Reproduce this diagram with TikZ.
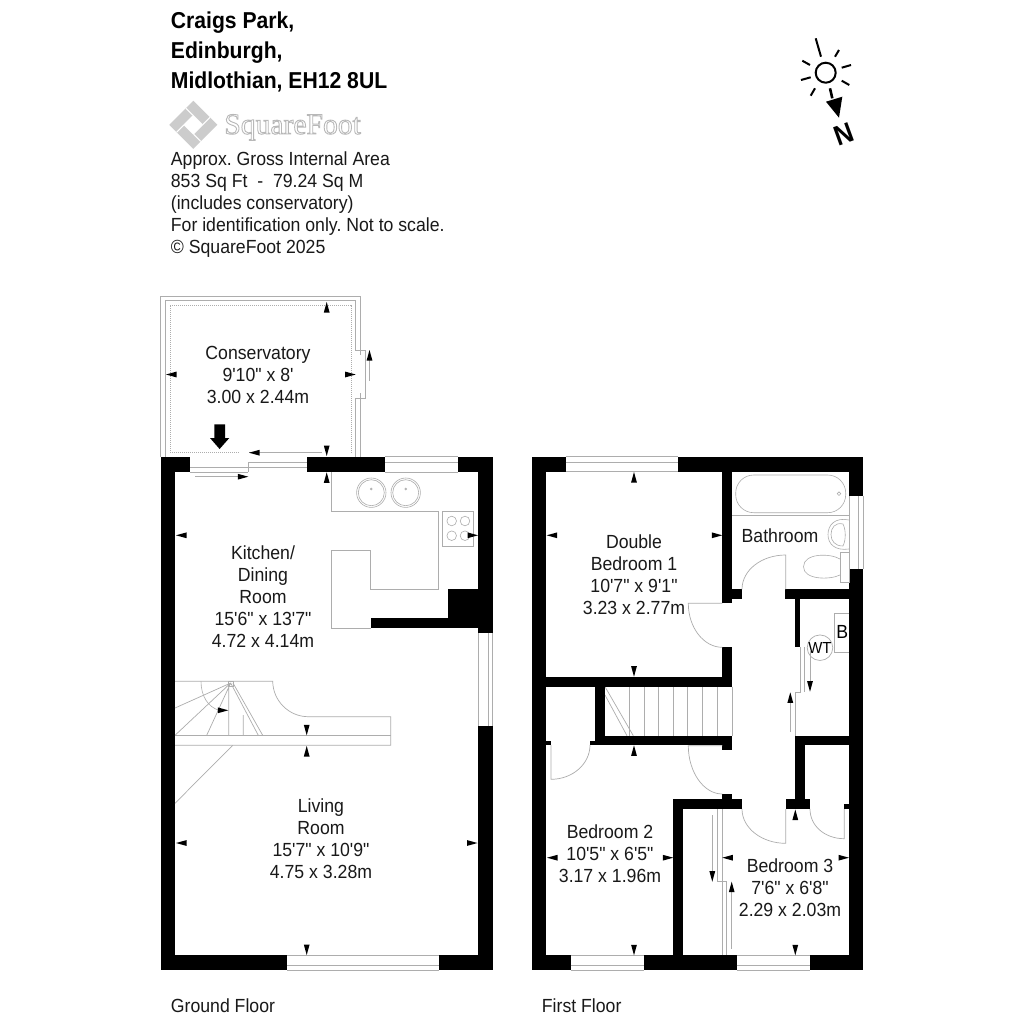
\documentclass[tikz,border=0pt]{standalone}
\usepackage{fontspec}
\setmainfont{Liberation Sans}
\newfontfamily\logofont{Liberation Serif}
\newfontfamily\bodyfont{Liberation Sans}[FakeStretch=0.93]
\newfontfamily\headfont{Liberation Sans}[FakeStretch=0.92]
\definecolor{ln}{gray}{0.68}
\tikzset{
  wall/.style={fill=black,draw=none},
  thin line/.style={draw=ln,line width=0.35pt},
  fixture/.style={draw=ln,line width=0.3pt},
  dotline/.style={draw=ln,line width=0.35pt,dash pattern=on 0.5pt off 0.5pt},
  room/.style={align=center,font=\fontsize{9.5}{11}\bodyfont\frenchspacing,inner sep=0pt,text=black!90},
  title/.style={anchor=base west,font=\fontsize{11.5}{12}\headfont\bfseries\frenchspacing,inner sep=0pt},
  info/.style={anchor=base west,font=\fontsize{9.5}{11}\bodyfont\frenchspacing,inner sep=0pt,text=black!90},
}
\newcommand{\W}[4]{\fill[wall] (#1,#2) rectangle (#3,#4);}
\newcommand{\Ar}[3]{\fill[black,shift={(#1,#2)},rotate=#3] (0,0) -- (-10.5,-2.9) -- (-10.5,2.9) -- cycle;}
\begin{document}
\begin{tikzpicture}[x=0.5pt,y=-0.5pt]
\useasboundingbox (0,0) rectangle (1024,1024);
\fill[white] (0,0) rectangle (1024,1024);

%% header text
\node[title] (t1) at (170.5,28) {Craigs Park,};
\node[title] (t2) at (170.5,58) {Edinburgh,};
\node[title] (t3) at (170.5,88) {Midlothian, EH12 8UL};
\node[info] (i1) at (170.5,165.5) {Approx. Gross Internal Area};
\node[info] (i2) at (170.5,187.5) {853 Sq Ft~~-~~79.24 Sq M};
\node[info] (i3) at (170.5,209.5) {(includes conservatory)};
\node[info] (i4) at (170.5,231.5) {For identification only. Not to scale.};
\node[info] (i5) at (170.5,253) {© SquareFoot 2025};

%% logo
\begin{scope}[shift={(193.3,124.8)},rotate=45]
 \fill[gray!40] (-17,-17) rectangle (17,17);
 \fill[white] (-7,-7) rectangle (7,7);
 \fill[white] (-17,-7) rectangle (-7,-6); \fill[white] (7,6) rectangle (17,7);
 \fill[white] (-7,7) rectangle (-6,17); \fill[white] (6,-17) rectangle (7,-7);
\end{scope}
\node[inner sep=0pt,anchor=base west] (logo) at (224,134) {\fontsize{14.8}{16}\logofont\special{pdf:code q 1 Tr 0.45 w 0.72 0.72 0.72 RG}SquareFoot\special{pdf:code Q}};

%% north symbol
\draw[black,line width=1pt] (825.7,72.7) circle (10);
\draw[black,line width=1pt,line cap=butt]
  (815.7,38.3)--(821,56.7) (835,56.7)--(839,50) (841.7,67.7)--(851,65) (841.7,80.7)--(849.3,85)
  (815,88.3)--(810.7,95.7) (810.7,77.3)--(801,80) (810,65)--(802.3,60.7);
\draw[black,line width=1.3pt] (830,88.3)--(832.3,98.3);
\fill[black] (826,101.7)--(842.3,96.7)--(839,117.7)--cycle;
\node[inner sep=0pt,rotate=20,font=\fontsize{14}{15}\headfont\bfseries] (north) at (843.5,134.5) {N};

%% ---------- GROUND FLOOR ----------
%% conservatory
\draw[thin line] (160.5,456.7)--(160.5,296)--(360.7,296)--(360.7,350);
\draw[thin line] (165,456.7)--(165,300.7)--(355.7,300.7)--(355.7,350)--(365.7,350)--(365.7,398)--(355.7,398)--(355.7,456.7);
\draw[thin line] (360.7,350)--(360.7,355) (360.7,393)--(360.7,398)--(360.7,456.7);
\draw[dotline] (170,452.7)--(170,305)--(351,305)--(351,452.7);
\draw[dotline] (170,452.7)--(240,452.7);
\draw[thin line] (369.5,356)--(369.5,381);
\Ar{369.5}{350}{90}
\Ar{166}{374.5}{180}
\Ar{355.7}{374.5}{0}
\Ar{326.7}{302}{90}
\Ar{326.7}{456}{270}
%% sliding door
\draw[thin line] (249,452.7)--(322,452.7);
\draw[thin line] (248.3,462.3)--(306.7,462.3) (190,467)--(248.3,467) (248.3,462.3)--(248.3,472) (190,472)--(248.3,472) (248.3,467)--(306.7,467);
\draw[thin line] (195,476.7)--(239,476.7);
\Ar{249}{452.7}{180}
\Ar{248.3}{476.7}{0}
\fill[black] (214.3,424.3)--(225,424.3)--(225,438)--(229.3,438)--(219.6,449)--(210,438)--(214.3,438)--cycle;
\Ar{326.7}{472.3}{90}

%% walls
\W{160.5}{456.7}{175}{970}
\W{160.5}{456.7}{190}{472}
\W{306.7}{456.7}{385}{472}
\W{458.3}{456.7}{492.7}{472}
\W{478}{456.7}{492.7}{633}
\W{478}{725.7}{492.7}{970}
\W{160.5}{955}{287.3}{970}
\W{438.7}{955}{492.7}{970}
\W{448}{589}{478}{628.3}
\W{370.7}{618.3}{448}{628.3}

%% windows
\draw[thin line] (385,456.7)--(458.3,456.7) (385,462.3)--(458.3,462.3) (385,472)--(458.3,472);
\draw[thin line] (287.3,955)--(438.7,955) (287.3,965)--(438.7,965) (287.3,970)--(438.7,970);
\draw[thin line] (478,633)--(478,725.7) (488,633)--(488,725.7) (492.7,633)--(492.7,725.7);

%% kitchen
\draw[thin line] (331.7,472)--(331.7,511.7)--(438.3,511.7)--(438.3,589)--(370.7,589)--(370.7,550)--(331.7,550)--(331.7,628.3)--(370.7,628.3);
\draw[fixture] (442.7,511.7) rectangle (473.3,546);
\foreach \cx/\cy in {451.7/521,465/521,451.7/535.7,465/535.7} \draw[fixture] (\cx,\cy) circle (4.8);
\foreach \cx in {371.3,405.7} {
  \draw[fixture] (\cx,492.7) circle (14.7);
  \draw[fixture] (\cx,492.7) circle (13);
  \draw[fixture] (\cx,489) circle (0.9);
}
\Ar{176}{535.3}{180}
\Ar{478}{535.3}{0}

%% stairs
\draw[thin line] (175,681.3)--(272.7,681.3) .. controls (273,701) and (289,716.7) .. (308.3,716.7)--(390.7,716.7)--(390.7,745.3)--(175,745.3);
\draw[thin line] (175,735.3)--(390.7,735.3);
\draw[thin line] (230.7,683)--(175,708) (230.7,683)--(175,735.3) (230.7,683)--(206.7,735.3) (228.7,684)--(228.7,735.3) (243.3,715)--(243.3,735.3) (230.7,683)--(258.3,735.3) (233,683)--(262.7,735.3);
\draw[fixture] (228.5,681.5) rectangle (233,686);
\draw[fixture] (201,681.3) .. controls (201,696) and (208,707) .. (219,710.3);
\draw[thin line] (232.7,745.3)--(175,803.3);
\Ar{228.3}{710.3}{0}
\Ar{306.7}{735.3}{270}
\Ar{306.7}{746}{90}
\Ar{176}{843}{180}
\Ar{477.5}{843}{0}
\Ar{306.7}{955}{270}

%% ground floor labels
\node[room] (consv) at (258,374.5) {Conservatory\\9'10" x 8'\\3.00 x 2.44m};
\node[room] (kit) at (263,597) {Kitchen/\\Dining\\Room\\15'6" x 13'7"\\4.72 x 4.14m};
\node[room] (liv) at (321,839) {Living\\Room\\15'7" x 10'9"\\4.75 x 3.28m};
\node[info] (gf) at (170.5,1012) {Ground Floor};

%% ---------- FIRST FLOOR ----------
%% stairs treads
\foreach \tx in {629.7,644,658.7,673.3,687.7,702.7,717.7,732} \draw[thin line] (\tx,686.7)--(\tx,735.7);
\draw[thin line] (605,686.7)--(633.3,735.7) (605,695)--(627,735.7);

%% walls
\W{531.7}{456.7}{546.3}{970}
\W{531.7}{456.7}{565.7}{471.7}
\W{678.3}{456.7}{863.3}{471.7}
\W{849}{456.7}{863.3}{496}
\W{849}{569.3}{863.3}{970}
\W{531.7}{955.3}{570.7}{970}
\W{644}{955.3}{736.7}{970}
\W{810}{955.3}{863.3}{970}
\W{722.3}{471}{732}{603.3}
\W{722.3}{647.3}{732}{686.7}
\W{546}{677}{732}{686.7}
\W{732}{589.3}{742}{599}
\W{785.3}{589.3}{849}{599}
\W{795}{599}{800}{647.3}
\W{595.3}{686.7}{605}{745}
\W{595.3}{735.7}{732}{745}
\W{722.3}{745}{732}{750}
\W{546}{740.7}{551}{745}
\W{590}{740.7}{595.3}{745}
\W{673.3}{799.3}{742}{809}
\W{673.3}{799.3}{683}{955.3}
\W{722.3}{794}{732}{799.3}
\W{795.3}{736}{805}{809}
\W{795.3}{736}{849}{745}
\W{785.7}{799.3}{810}{809}
\W{844.3}{804}{849}{809}

%% windows
\draw[thin line] (565.7,456.7)--(678.3,456.7) (565.7,462.7)--(678.3,462.7) (565.7,471.7)--(678.3,471.7);
\draw[thin line] (849,496)--(849,569.3) (858,496)--(858,569.3) (863.3,496)--(863.3,569.3);
\draw[thin line] (570.7,955.3)--(644,955.3) (570.7,965)--(644,965) (570.7,970)--(644,970);
\draw[thin line] (736.7,955.3)--(810,955.3) (736.7,965)--(810,965) (736.7,970)--(810,970);

%% doors
\draw[thin line] (722.3,603.3)--(688.3,603.3) .. controls (688.3,627.5) and (703.6,647.3) .. (722.3,647.3);
\draw[thin line] (722.3,745.7)--(688.3,745.7) .. controls (688.3,772) and (703.6,794) .. (722.3,794);
\draw[thin line] (551,745)--(551,779.3) .. controls (572.5,779.3) and (590,764) .. (590,745);
\draw[thin line] (785.7,589.3)--(785.7,555) .. controls (761.7,555) and (742,570) .. (742,589.3);
\draw[thin line] (785.7,809)--(785.7,843.3) .. controls (761.7,843.3) and (742,828) .. (742,809);
\draw[thin line] (844.3,809)--(844.3,838.7) .. controls (825,838.7) and (810,826) .. (810,809);

%% bathroom
\draw[fixture,rounded corners=9pt] (735.7,475) rectangle (845.7,512.7);
\draw[fixture] (839,493.7) circle (1.8);
\draw[thin line] (732,515.3)--(849,515.3);
\draw[fixture] (849,520) .. controls (835,517) and (828,525) .. (828,534.5) .. controls (828,544) and (835,551) .. (849,549);
\draw[fixture] (843,524) .. controls (835,522) and (831,528) .. (831,534.5) .. controls (831,541) and (835,546) .. (843,546) .. controls (846,540) and (846,530) .. (843,524);
\draw[fixture] (840,552.7) rectangle (849,582.3);
\draw[fixture] (840,559) .. controls (830,553) and (803.5,553) .. (803.5,566.7) .. controls (803.5,580) and (830,580) .. (840,575);

%% cupboard, boiler and water tank
\draw[fixture] (849,613.3)--(834.3,613.3)--(834.3,652.3)--(849,652.3);
\node[inner sep=0pt,font=\fontsize{9.5}{11}\bodyfont] (boiler) at (842.3,631.7) {B};
\node[draw=ln,line width=0.35pt,circle,minimum size=11.7pt,inner sep=0pt,font=\fontsize{8}{9}\bodyfont] (wt) at (820,647.7) {WT};
\draw[thin line] (800,647.3)--(800,692)--(795.7,692)--(795.7,735.7);
\draw[thin line] (804,647.3)--(804,692);
\draw[thin line] (810,650)--(810,683);
\draw[thin line] (790.3,701)--(790.3,731.7);
\Ar{810}{691.7}{270}
\Ar{790.3}{692.3}{90}

%% wardrobe sliding doors in bedroom 3
\draw[thin line] (722.3,809)--(722.3,955.3);
\draw[thin line] (726.7,881.7)--(726.7,955.3);
\draw[thin line] (717.7,809)--(717.7,881.7)--(726.7,881.7);
\draw[thin line] (712.3,815)--(712.3,873);
\draw[thin line] (731.7,890)--(731.7,949);
\Ar{712.3}{881.7}{270}
\Ar{731.7}{881.7}{90}

%% dimension markers
\Ar{634}{472}{90}
\Ar{546.7}{535.3}{180}
\Ar{722.3}{535.3}{0}
\Ar{634}{676.7}{270}
\Ar{634}{745.3}{90}
\Ar{547}{857.7}{180}
\Ar{673.3}{857.7}{0}
\Ar{634}{955.3}{270}
\Ar{795.3}{809.5}{90}
\Ar{722.3}{857.7}{180}
\Ar{849}{857.7}{0}
\Ar{795.3}{955.3}{270}

%% first floor labels
\node[room] (dbl) at (634,575) {Double\\Bedroom 1\\10'7" x 9'1"\\3.23 x 2.77m};
\node[room] (bathl) at (780,536) {Bathroom};
\node[room] (bed2) at (610,853.5) {Bedroom 2\\10'5" x 6'5"\\3.17 x 1.96m};
\node[room] (bed3) at (790,888) {Bedroom 3\\7'6" x 6'8"\\2.29 x 2.03m};
\node[info] (ff) at (541.5,1012) {First Floor};
\end{tikzpicture}
\end{document}
